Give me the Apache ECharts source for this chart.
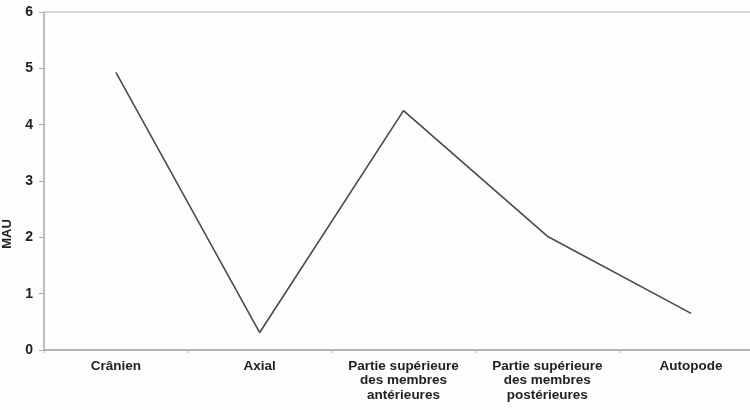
<!DOCTYPE html>
<html>
<head>
<meta charset="utf-8">
<script src="https://cdn.jsdelivr.net/npm/echarts@6/dist/echarts.min.js"></script>
<style>
html,body{margin:0;padding:0;background:#fdfdfd;}
#chart{width:750px;height:410px;}
</style>
</head>
<body>
<div id="chart"></div>
<script>
// catégories anatomiques
var categories = ['Crânien', 'Axial', 'Partie supérieure\ndes membres\nantérieures', 'Partie supérieure\ndes membres\npostérieures', 'Autopode'];
// valeurs MAU
var mauValues = [4.93, 0.31, 4.25, 2.02, 0.65];
var yTicks = [0, 1, 2, 3, 4, 5, 6];

var myChart = echarts.init(document.getElementById('chart'));
var option = {
	backgroundColor: '#fdfdfd',
	animation: false,
	// le cadre dépasse à droite de l'image (recadrée)
	grid: {left: 44, top: 12, width: 719, height: 338, outerBoundsMode: 'none', containLabel: false},
	xAxis: [
		{
			type: 'category',
			data: categories,
			boundaryGap: true,
			axisLine: {lineStyle: {color: '#b4b4b4', width: 2}},
			axisTick: {show: true, length: 3, lineStyle: {color: '#b4b4b4'}},
			axisLabel: {
				color: '#222',
				fontFamily: 'Liberation Sans',
				fontWeight: 'bold',
				fontSize: 13.5,
				lineHeight: 14.5,
				margin: 9,
				interval: 0
			}
		},
		{
			// bord supérieur du cadre
			type: 'category',
			position: 'top',
			data: categories,
			axisLine: {lineStyle: {color: '#d6d6d6', width: 2}},
			axisTick: {show: false},
			axisLabel: {show: false}
		}
	],
	yAxis: {
		type: 'value',
		min: yTicks[0],
		max: yTicks[yTicks.length - 1],
		interval: 1,
		axisLine: {show: true, lineStyle: {color: '#a8a8a8', width: 1.5}},
		axisTick: {show: true, length: 5, lineStyle: {color: '#a8a8a8'}},
		splitLine: {show: false},
		axisLabel: {
			color: '#222',
			fontFamily: 'Liberation Sans',
			fontWeight: 'bold',
			fontSize: 14,
			margin: 11
		}
	},
	graphic: [{
		type: 'text',
		x: 7,
		y: 234,
		rotation: Math.PI / 2,
		style: {
			text: 'MAU',
			fill: '#222',
			font: 'bold 13px "Liberation Sans"',
			align: 'center',
			verticalAlign: 'middle'
		}
	}],
	series: [{
		type: 'line',
		data: mauValues,
		symbol: 'none',
		lineStyle: {color: '#4a4a4a', width: 1.6}
	}]
};
myChart.setOption(option);
</script>
</body>
</html>
